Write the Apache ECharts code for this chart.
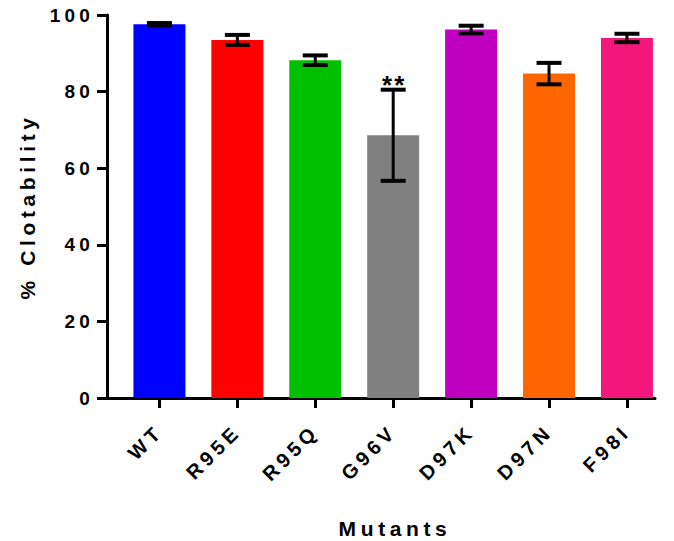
<!DOCTYPE html>
<html>
<head>
<meta charset="utf-8">
<script src="https://cdn.jsdelivr.net/npm/echarts@6/dist/echarts.min.js"></script>
<style>
  html, body { margin: 0; padding: 0; background: #fff; }
  #chart { width: 674px; height: 541px; }
  /* GraphPad-style spaced lettering */
  #chart text { letter-spacing: 0.22em; }
  #chart text[style*="26px"] { letter-spacing: 0.08em; }
</style>
</head>
<body>
<div id="chart"></div>
<script>
var categories = ['WT', 'R95E', 'R95Q', 'G96V', 'D97K', 'D97N', 'F98I'];
var means = [97.6, 93.5, 88.2, 68.6, 96.2, 84.7, 94.0];
var errors = [0.3, 1.3, 1.25, 11.9, 1.0, 2.8, 1.1];
var marks = ['', '', '', '**', '', '', ''];
var colors = ['#0000ff', '#ff0000', '#00c000', '#808080', '#c000c0', '#ff6600', '#f5187c'];
var yTicks = [0, 20, 40, 60, 80, 100];

var fontFam = '"Liberation Sans", Arial, sans-serif';
var positions = categories.map(function (c, i) { return i; });

var chart = echarts.init(document.getElementById('chart'), null, { renderer: 'svg' });

var option = {
  animation: false,
  backgroundColor: '#fff',
  grid: { left: 107, right: 19, top: 15, bottom: 143, outerBoundsMode: 'none' },
  xAxis: {
    type: 'value',
    min: -0.673,
    max: 6.36,
    name: 'Mutants',
    nameLocation: 'middle',
    nameGap: 120,
    nameTextStyle: { color: '#000', fontSize: 21, fontWeight: 'bold', fontFamily: fontFam, padding: [0, 0, 0, 28] },
    axisLine: { show: true, onZero: false, lineStyle: { color: '#000', width: 3 } },
    axisTick: { show: true, length: 10, lineStyle: { color: '#000', width: 3 }, customValues: positions },
    axisLabel: {
      customValues: positions,
      rotate: 45,
      margin: 30,
      color: '#000',
      fontSize: 20,
      fontWeight: 'bold',
      fontFamily: fontFam,
      formatter: function (v) { return categories[Math.round(v)]; }
    },
    splitLine: { show: false }
  },
  yAxis: {
    type: 'value',
    min: 0,
    max: 100,
    interval: 20,
    name: '% Clotability',
    nameLocation: 'middle',
    nameGap: 69,
    nameTextStyle: { color: '#000', fontSize: 21, fontWeight: 'bold', fontFamily: fontFam },
    axisLine: { show: true, onZero: false, lineStyle: { color: '#000', width: 3 } },
    axisTick: { show: true, length: 10, lineStyle: { color: '#000', width: 3 } },
    axisLabel: {
      margin: 13,
      color: '#000',
      fontSize: 19,
      fontWeight: 'bold',
      fontFamily: fontFam,
      formatter: function (v) { return yTicks.indexOf(v) >= 0 ? String(v) : ''; }
    },
    splitLine: { show: false }
  },
  series: [
    {
      type: 'bar',
      barWidth: 52,
      data: means.map(function (v, i) {
        return { value: [i, v], itemStyle: { color: colors[i] } };
      }),
      z: 2
    },
    {
      type: 'custom',
      z: 5,
      data: means.map(function (v, i) { return [i, v, errors[i], i]; }),
      renderItem: function (params, api) {
        var x = api.value(0);
        var m = api.value(1);
        var e = api.value(2);
        var idx = api.value(3);
        var top = api.coord([x, m + e]);
        var bot = api.coord([x, m - e]);
        var hw = 12.5;
        var children = [
          { type: 'line', shape: { x1: top[0], y1: top[1], x2: bot[0], y2: bot[1] }, style: { stroke: '#000', lineWidth: 3 } },
          { type: 'line', shape: { x1: top[0] - hw, y1: top[1], x2: top[0] + hw, y2: top[1] }, style: { stroke: '#000', lineWidth: 4 } },
          { type: 'line', shape: { x1: bot[0] - hw, y1: bot[1], x2: bot[0] + hw, y2: bot[1] }, style: { stroke: '#000', lineWidth: 4 } }
        ];
        if (marks[idx]) {
          children.push({
            type: 'text',
            style: {
              text: marks[idx],
              x: top[0] + 1,
              y: top[1] - 5,
              align: 'center',
              verticalAlign: 'middle',
              fill: '#000',
              font: 'bold 26px ' + fontFam
            }
          });
        }
        return { type: 'group', children: children };
      }
    }
  ]
};

chart.setOption(option);
</script>
</body>
</html>
